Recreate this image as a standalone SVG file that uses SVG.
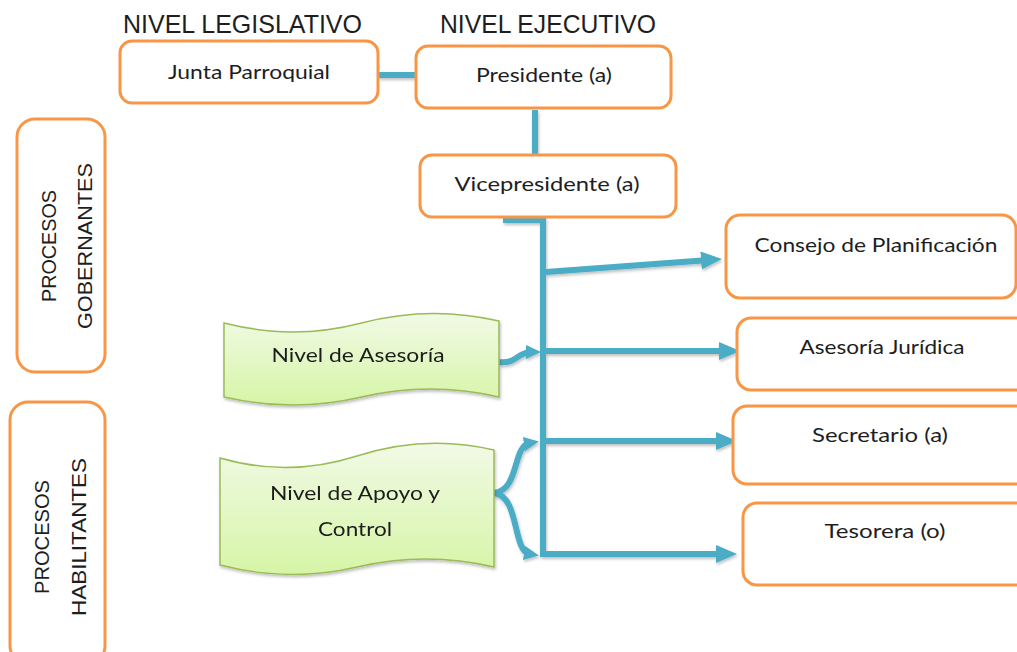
<svg xmlns="http://www.w3.org/2000/svg" width="1017" height="652" viewBox="0 0 1017 652">
<style>
.box{fill:#fff;stroke:#F79646;stroke-width:3}
.doc{fill:url(#g);stroke:#9BBB59;stroke-width:1.5}
.t{font-family:Lato,"Open Sans",sans-serif;font-size:20px;fill:#1e1e1e;text-anchor:middle}
.h{font-family:"Liberation Sans",Arial,sans-serif;font-size:25px;fill:#1e1e1e}
.v{font-family:"Liberation Sans",Arial,sans-serif;font-size:20px;fill:#1e1e1e;text-anchor:middle}
.c{fill:none;stroke:#4BACC6;stroke-width:6}
</style>
<defs>
<linearGradient id="g" x1="0" y1="0" x2="0" y2="1">
<stop offset="0" stop-color="#F1FAE6"/>
<stop offset="1" stop-color="#D6F5A6"/>
</linearGradient>
<marker id="a" markerUnits="userSpaceOnUse" markerWidth="22" markerHeight="20" refX="8" refY="9" orient="auto">
<path d="M0,0 L21,9 L0,18 z" fill="#4BACC6"/>
</marker>
<marker id="s" markerUnits="userSpaceOnUse" markerWidth="16" markerHeight="16" refX="6" refY="7" orient="auto">
<path d="M0,0 L15,7 L0,14 z" fill="#4BACC6"/>
</marker>
<filter id="sh" x="-10%" y="-10%" width="120%" height="130%">
<feDropShadow dx="1" dy="2" stdDeviation="1.5" flood-color="#000" flood-opacity="0.25"/>
</filter>
</defs>
<rect width="1017" height="652" fill="#fff"/>

<text class="h" x="123" y="33" textLength="239" lengthAdjust="spacingAndGlyphs">NIVEL LEGISLATIVO</text>
<text class="h" x="440" y="33" textLength="216" lengthAdjust="spacingAndGlyphs">NIVEL EJECUTIVO</text>

<g id="connectors" filter="url(#sh)">
<path class="c" d="M378,75 L416,75"/>
<path class="c" d="M535,110 L535,154"/>
<path class="c" d="M503,220 L543,220 L543,557"/>
<path class="c" d="M546,272 L709,260" marker-end="url(#a)"/>
<path class="c" d="M546,351 L727,351" marker-end="url(#a)"/>
<path class="c" d="M543,441 L724,441" marker-end="url(#a)"/>
<path class="c" d="M543,554 L724,554" marker-end="url(#a)"/>
<path class="c" d="M499,362 C518,364 516,352 532,352" marker-end="url(#s)"/>
<path class="c" d="M494,493 C520,490 512,446 530,443" marker-end="url(#s)"/>
<path class="c" d="M494,493 C520,496 512,551 530,554" marker-end="url(#s)"/>
</g>

<g id="junta"><rect class="box" x="120" y="41" width="258" height="62" rx="12"/><text class="t" x="249" y="79" textLength="162" lengthAdjust="spacingAndGlyphs">Junta Parroquial</text></g>
<g id="presidente"><rect class="box" x="416" y="46" width="255" height="62" rx="12"/><text class="t" x="544" y="82" textLength="136" lengthAdjust="spacingAndGlyphs">Presidente (a)</text></g>
<g id="vicepresidente"><rect class="box" x="420" y="155" width="256" height="62" rx="12"/><text class="t" x="547" y="191" textLength="185" lengthAdjust="spacingAndGlyphs">Vicepresidente (a)</text></g>

<g id="consejo"><rect class="box" x="726" y="215" width="290" height="83" rx="14"/><text class="t" x="876" y="252" textLength="243" lengthAdjust="spacingAndGlyphs">Consejo de Planificación</text></g>
<g id="asesoria-juridica"><rect class="box" x="737" y="318" width="300" height="72" rx="14"/><text class="t" x="882" y="354" textLength="165" lengthAdjust="spacingAndGlyphs">Asesoría Jurídica</text></g>
<g id="secretario"><rect class="box" x="733" y="406" width="300" height="78" rx="14"/><text class="t" x="880" y="442" textLength="136" lengthAdjust="spacingAndGlyphs">Secretario (a)</text></g>
<g id="tesorera"><rect class="box" x="743" y="503" width="300" height="82" rx="14"/><text class="t" x="885" y="538" textLength="121" lengthAdjust="spacingAndGlyphs">Tesorera (o)</text></g>

<g id="gobernantes"><rect class="box" x="17" y="119" width="88" height="253" rx="18"/>
<text class="v" transform="translate(56,246) rotate(-90)" textLength="112" lengthAdjust="spacingAndGlyphs">PROCESOS</text>
<text class="v" transform="translate(92,246) rotate(-90)" textLength="166" lengthAdjust="spacingAndGlyphs">GOBERNANTES</text></g>
<g id="habilitantes"><rect class="box" x="10" y="402" width="95" height="262" rx="18"/>
<text class="v" transform="translate(49,537) rotate(-90)" textLength="114" lengthAdjust="spacingAndGlyphs">PROCESOS</text>
<text class="v" transform="translate(86,537) rotate(-90)" textLength="158" lengthAdjust="spacingAndGlyphs">HABILITANTES</text></g>

<g id="nivel-asesoria" filter="url(#sh)"><path class="doc" d="M224,323 Q293,341 361.5,323 T499,321 L499,397 Q430,381 361.5,397 T224,397 Z"/>
<text class="t" x="358" y="362" textLength="173" lengthAdjust="spacingAndGlyphs">Nivel de Asesoría</text></g>
<g id="nivel-apoyo" filter="url(#sh)"><path class="doc" d="M220,458 Q288.5,478 357,456 T494,450 L494,567 Q425.5,551 357,567 T220,565 Z"/>
<text class="t" x="355" y="500" textLength="170" lengthAdjust="spacingAndGlyphs">Nivel de Apoyo y</text>
<text class="t" x="355" y="536" textLength="74" lengthAdjust="spacingAndGlyphs">Control</text></g>
</svg>
